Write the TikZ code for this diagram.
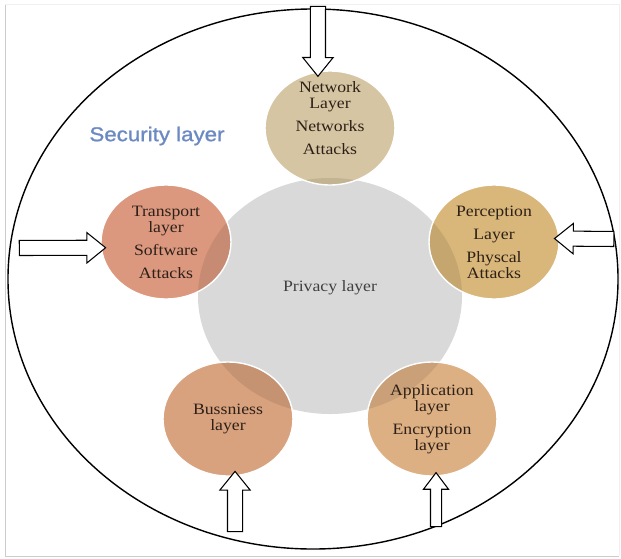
\documentclass[tikz,border=0pt]{standalone}
\usepackage{fontspec}
\setmainfont{Liberation Serif}[FakeStretch=1.12]
\newfontfamily\wordart{Liberation Sans}[FakeStretch=1.12, FakeBold=1.2]
\usetikzlibrary{shapes.geometric,shapes.arrows}

\definecolor{netcol}{RGB}{214,197,162}
\definecolor{percol}{RGB}{217,183,122}
\definecolor{tracol}{RGB}{219,152,127}
\definecolor{buscol}{RGB}{217,162,126}
\definecolor{appcol}{RGB}{221,176,131}
\definecolor{privcol}{RGB}{217,217,217}
\definecolor{inkcol}{RGB}{45,32,24}
\definecolor{seccol}{RGB}{108,138,194}

\begin{document}
\begin{tikzpicture}[
  x=0.03cm, y=-0.03cm,
  layertext/.style={align=center, text=inkcol, font=\fontsize{13.5}{13.7}\selectfont},
  layer/.style={ellipse, layertext, draw=white, line width=1.2pt, inner sep=0pt,
    minimum width=3.9cm, minimum height=3.42cm,
    path picture={\fill[black, fill opacity=.09] (privacy.center) ellipse [x radius=3.96cm, y radius=3.54cm];}},
  hollow/.style={single arrow, draw=black, fill=white, line width=0.9pt,
    inner xsep=0pt, inner ysep=0.21cm, single arrow head extend=0.23cm, single arrow tip angle=78,
    sloped, allow upside down}
]
\useasboundingbox (0,0) rectangle (621,558);
\draw[black!20] (5,4) |- (619,556);
\draw[black!6] (5,4) -| (619,556);

% outer ring and core
\node[ellipse, draw=black, line width=1.2pt, minimum width=18.3cm, minimum height=16.2cm] (security) at (313,279) {};
\node[font=\wordart\fontsize{17}{20}\selectfont, text=seccol] (sectitle) at (157,136) {Security layer};
\node[ellipse, fill=privcol, minimum width=7.92cm, minimum height=7.08cm,
  label={[name=privtext, layertext, text=black!75, yshift=0.26cm]center:Privacy layer}] (privacy) at (330,296) {};

% the five layers
\node[layer, fill=netcol, label={[name=nettext, layertext, yshift=0.3cm]center:Network\\Layer\\[6pt]Networks\\[6pt]Attacks}] (net) at (330,128) {};
\node[layer, fill=tracol] (tra) at (166,242) {Transport\\layer\\[6pt]Software\\[6pt]Attacks};
\node[layer, fill=percol] (per) at (494,242) {Perception\\[6pt]Layer\\[6pt]Physcal\\Attacks};
\node[layer, fill=buscol] (bus) at (228,419) {Bussniess\\layer};
\node[layer, fill=appcol] (app) at (432,419) {Application\\layer\\[6pt]Encryption\\layer};

% attacks from outside
\coordinate (netin) at (318,2);
\coordinate (train) at (15,248);
\coordinate (perin) at (618,239);
\coordinate (busin) at (235,536);
\coordinate (appin) at (436,530);

\path (netin) -- node[hollow, minimum height=2.1cm] (netarrow) {} (net.102);
\path (train) -- node[hollow, minimum height=2.59cm] (traarrow) {} (tra.185);
\path (perin) -- node[hollow, minimum height=1.78cm] (perarrow) {} (per.3);
\path (busin) -- node[hollow, minimum height=1.81cm] (busarrow) {} (bus.277);
\path (appin) -- node[hollow, minimum height=1.62cm, inner ysep=0.15cm, single arrow head extend=0.21cm, single arrow tip angle=74] (apparrow) {} (app.274);
\end{tikzpicture}
\end{document}
